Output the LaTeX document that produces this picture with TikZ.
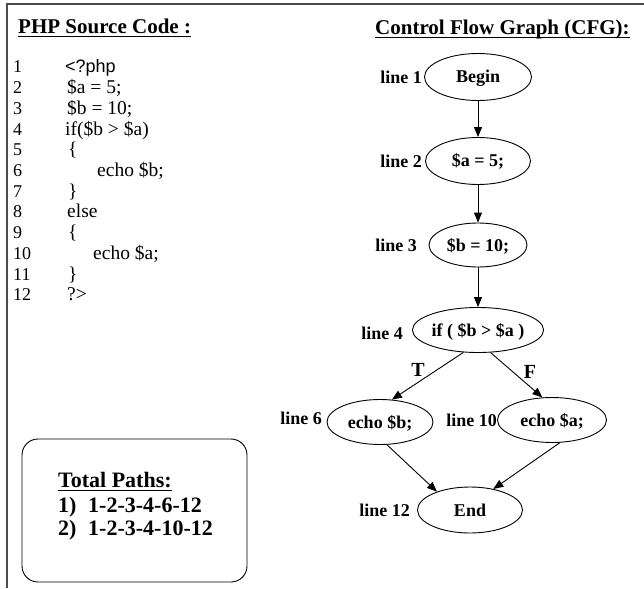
\documentclass[tikz,border=0pt]{standalone}
\usepackage{fontspec}
\setmainfont{Liberation Serif}
\newfontfamily\sansf{Liberation Sans}
\usetikzlibrary{arrows.meta,shapes.geometric}
\begin{document}
\begin{tikzpicture}[x=1pt,y=-1pt,
  frame/.style={draw=black!70,line width=1.6pt},
  title/.style={font=\fontsize{21}{24}\selectfont\bfseries,inner sep=0pt,anchor=base west},
  num/.style={font=\fontsize{18}{20}\selectfont,inner sep=0pt,anchor=base west},
  code/.style={font=\fontsize{19.5}{22}\selectfont,inner sep=0pt,anchor=base west},
  codesans/.style={font=\sansf\fontsize{18}{20}\selectfont,inner sep=0pt,anchor=base west},
  cfg/.style={draw,ellipse,line width=0.9pt,inner sep=0pt,font=\fontsize{18}{20}\selectfont\bfseries,text height=12.5pt,text depth=0.5pt},
  lbl/.style={font=\fontsize{18}{20}\selectfont\bfseries,inner sep=0pt,anchor=east},
  tf/.style={font=\fontsize{20}{22}\selectfont\bfseries,inner sep=0pt},
  ptxt/.style={font=\fontsize{22}{24}\selectfont\bfseries,inner sep=0pt,anchor=base west},
  uline/.style={line width=1pt},
  arr/.style={line width=0.9pt,-{Triangle[length=10pt,width=8pt]}},
]
\useasboundingbox (0,0) rectangle (644,588);
\draw[frame] (7,588) -- (7,4) -- (644,4);

% titles
\node[title] (t1) at (18,34) {PHP Source Code :};
\draw[uline] ([yshift=-3pt]t1.base west) -- ([yshift=-3pt]t1.base east);
\node[title] (t2) at (375,35) {Control Flow Graph (CFG):};
\draw[uline] ([yshift=-3pt]t2.base west) -- ([yshift=-3pt]t2.base east);

% code
\foreach \i in {1,...,12} \node[num] (n\i) at (13,{73+(\i-1)*20.7}) {\i};
\node[codesans] (c1) at (65,73) {<?php};
\node[code] (c2) at (67,93.7) {\$a = 5;};
\node[code] (c3) at (67,114.4) {\$b = 10;};
\node[code] (c4) at (65,135.1) {if(\$b > \$a)};
\node[code] (c5) at (68,155.8) {\{};
\node[code] (c6) at (97,176.5) {echo \$b;};
\node[code] (c7) at (68,197.2) {\}};
\node[code] (c8) at (67,217.9) {else};
\node[code] (c9) at (68,238.6) {\{};
\node[code] (c10) at (93,259.3) {echo \$a;};
\node[code] (c11) at (68,280) {\}};
\node[code] (c12) at (67,300.7) {?>};

% CFG
\node[cfg,minimum width=107pt,minimum height=47pt] (begin) at (478,77) {Begin};
\node[cfg,minimum width=105pt,minimum height=47pt] (a5) at (478,161) {\$a = 5;};
\node[cfg,minimum width=98pt,minimum height=44pt] (b10) at (478,245) {\$b = 10;};
\node[cfg,minimum width=131pt,minimum height=45pt] (if) at (478,330) {if ( \$b > \$a )};
\node[cfg,minimum width=106pt,minimum height=45pt] (eb) at (380,422) {echo \$b;};
\node[cfg,minimum width=109pt,minimum height=45pt] (ea) at (552,420) {echo \$a;};
\node[cfg,minimum width=105pt,minimum height=46pt] (end) at (470,510) {End};

\node[lbl] (l1) at (422,77) {line 1};
\node[lbl] (l2) at (422,161) {line 2};
\node[lbl] (l3) at (417,245) {line 3};
\node[lbl] (l4) at (403,333) {line 4};
\node[lbl] (l6) at (322,418) {line 6};
\node[lbl] (l10) at (497,420) {line 10};
\node[lbl] (l12) at (410,510) {line 12};

\draw[arr] (begin) -- (a5);
\draw[arr] (a5) -- (b10);
\draw[arr] (b10) -- (if);
\draw[arr] (if.237) -- (eb.62);
\draw[arr] (if.299) -- (ea.113);
\draw[arr] (eb.287) -- (end.151);
\draw[arr] (ea.289) -- (end.42);
\node[tf] (T) at (418,370) {T};
\node[tf] (F) at (530,372) {F};

% paths box
\node[draw,rounded corners=16pt,line width=0.9pt,minimum width=225pt,minimum height=143pt] (paths) at (134.5,510.5) {};
\node[ptxt] (ptitle) at (58,487) {Total Paths:};
\draw[uline] ([yshift=-3.5pt]ptitle.base west) -- ([yshift=-3.5pt]ptitle.base east);
\node[ptxt] (p1n) at (58,512) {1)};
\node[ptxt] (p1) at (88,512) {1-2-3-4-6-12};
\node[ptxt] (p2n) at (58,535) {2)};
\node[ptxt] (p2) at (88,535) {1-2-3-4-10-12};
\end{tikzpicture}
\end{document}
